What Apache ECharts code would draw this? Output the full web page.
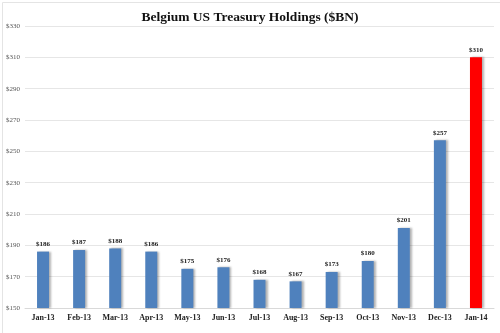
<!DOCTYPE html>
<html><head><meta charset="utf-8">
<script src="https://cdn.jsdelivr.net/npm/echarts@6/dist/echarts.min.js"></script>
<style>html,body{margin:0;padding:0;background:#fff}#c{width:500px;height:333px}</style>
</head><body><div id="c"></div>
<script>
const categories = ['Jan-13','Feb-13','Mar-13','Apr-13','May-13','Jun-13','Jul-13','Aug-13','Sep-13','Oct-13','Nov-13','Dec-13','Jan-14'];
const holdings = [186,187,188,186,175,176,168,167,173,180,201,257,310];
const highlightIndex = 12;
const titleText = 'Belgium US Treasury Holdings ($BN)';

const serif = '"Liberation Serif","DejaVu Serif",serif';
const chart = echarts.init(document.getElementById('c'), null, {renderer:'canvas'});
chart.setOption({
  animation:false,
  backgroundColor:'#fff',
  graphic:[{type:'rect',left:0,top:0,shape:{x:0.5,y:0.5,width:499,height:332},style:{fill:null,stroke:'#e4e4e4',lineWidth:1},silent:true}],
  title:{text:titleText,left:'center',top:6,textStyle:{fontFamily:serif,fontWeight:'bold',fontSize:13.5,color:'#111'}},
  grid:{left:25,right:6,top:26,bottom:25},
  xAxis:{type:'category',data:categories,
    axisLine:{lineStyle:{color:'#d9d9d9'}},axisTick:{show:false},
    axisLabel:{fontFamily:serif,fontWeight:'bold',fontSize:8,color:'#222',margin:6,interval:0}},
  yAxis:{type:'value',min:150,max:330,interval:20,
    splitLine:{lineStyle:{color:'#e6e6e6'}},axisLine:{show:false},axisTick:{show:false},
    axisLabel:{fontFamily:serif,fontSize:7,color:'#555',margin:5,formatter:v=>'$'+v}},
  series:[{type:'bar',barWidth:12,
    data:holdings.map((v,i)=>({value:v,itemStyle:{color:i===highlightIndex?'#FF0000':'#4F81BD'}})),
    itemStyle:{shadowColor:'rgba(0,0,0,0.3)',shadowOffsetX:2,shadowOffsetY:0,shadowBlur:2},
    label:{show:true,position:'top',distance:4,formatter:p=>'$'+p.value,fontFamily:serif,fontWeight:'bold',fontSize:7,color:'#222'}}]
});
</script></body></html>
